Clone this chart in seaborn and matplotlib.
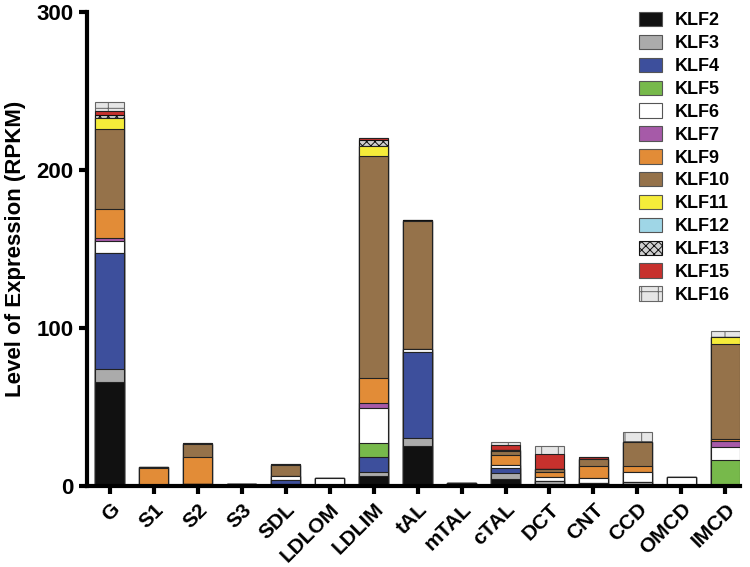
import matplotlib
matplotlib.use('Agg')
import matplotlib.pyplot as plt
import numpy as np
import seaborn as sns
from matplotlib.patches import Patch

# regions along the nephron
regions = ['G', 'S1', 'S2', 'S3', 'SDL', 'LDLOM', 'LDLIM', 'tAL', 'mTAL',
           'cTAL', 'DCT', 'CNT', 'CCD', 'OMCD', 'IMCD']

# expression per KLF gene (RPKM), same order as regions
klf2 = [66, 0, 1.5, 1.0, 1.0, 0, 6, 25.3, 0.5, 4.5, 1.0, 0.7, 1.0, 0, 0.5]
klf3 = [8, 0, 0, 0, 0, 0, 3, 4.9, 1.5, 3.5, 2.0, 1.0, 1.7, 0.5, 0]
klf4 = [73.5, 0, 0, 0, 2.8, 0, 9, 54.8, 0, 3.2, 0, 0, 0, 0, 0]
klf5 = [0, 0, 0, 0, 0, 0, 9, 0, 0, 0, 0, 0, 0, 0, 16]
klf6 = [7.8, 0, 0, 0, 2.5, 5.0, 22.4, 1.5, 0, 2.0, 2.5, 3.2, 6.3, 5.0, 8.4]
klf7 = [1.5, 0, 0, 0, 0, 0, 2.9, 0, 0, 0, 0, 0, 0, 0, 3.4]
klf9 = [18.2, 11.5, 17, 0, 0, 0, 16.1, 0, 0, 6.5, 3.5, 7.8, 3.7, 0, 1.5]
klf10 = [51, 0.5, 8, 0.5, 7, 0.3, 140.7, 81, 0, 2.3, 1.5, 4.2, 14.9, 0, 60.3]
klf11 = [7, 0, 0, 0, 0, 0, 6.3, 0, 0, 0.5, 0.3, 0, 0, 0, 4]
klf12 = [0, 0, 0, 0, 0, 0, 0, 0, 0, 0, 0, 0, 0, 0, 0]
klf13 = [2, 0, 0, 0, 0, 0, 3.6, 1.0, 0, 0, 0, 0, 0.5, 0, 0]
klf15 = [2, 0, 0.5, 0, 0.3, 0, 1.3, 0, 0, 3.2, 9.2, 1.5, 0, 0, 0.3]
klf16 = [6, 0, 0, 0, 0, 0, 0, 0, 0, 1.8, 5.5, 0, 6.0, 0, 3.5]

genes = ['KLF2', 'KLF3', 'KLF4', 'KLF5', 'KLF6', 'KLF7', 'KLF9', 'KLF10',
         'KLF11', 'KLF12', 'KLF13', 'KLF15', 'KLF16']
values = [klf2, klf3, klf4, klf5, klf6, klf7, klf9, klf10,
          klf11, klf12, klf13, klf15, klf16]

# fill colour, hatch and edge per gene
styles = {
    'KLF2': ('#111111', None, '#222222'),
    'KLF3': ('#ababab', None, '#222222'),
    'KLF4': ('#3d4f9c', None, '#222222'),
    'KLF5': ('#77b94b', None, '#222222'),
    'KLF6': ('#ffffff', None, '#222222'),
    'KLF7': ('#a65aa8', None, '#222222'),
    'KLF9': ('#e28c37', None, '#222222'),
    'KLF10': ('#95724a', None, '#222222'),
    'KLF11': ('#f5ec3a', None, '#222222'),
    'KLF12': ('#9fd6e6', None, '#222222'),
    'KLF13': ('#d0d0d0', 'xxxx', '#111111'),
    'KLF15': ('#c7312d', None, '#222222'),
    'KLF16': ('#e6e6e6', '+', '#666666'),
}

plt.rcParams['font.family'] = ['Liberation Sans', 'DejaVu Sans']
plt.rcParams['font.weight'] = 'bold'
plt.rcParams['hatch.linewidth'] = 0.7

fig = plt.figure(figsize=(7.5, 5.67), dpi=100)
ax = fig.add_axes([0.116, 0.143, 0.871, 0.836])

# stacked bars: draw cumulative totals from the top layer down
cum = np.cumsum(np.array(values), axis=0)
for i in range(len(genes) - 1, -1, -1):
    face, hatch, edge = styles[genes[i]]
    sns.barplot(x=regions, y=cum[i], order=regions, color=face, saturation=1,
                width=0.66, edgecolor=edge, linewidth=0.8, hatch=hatch, ax=ax)

ax.set_ylim(0, 300)
ax.set_xlim(-0.52, 14.34)
ax.set_yticks([0, 100, 200, 300])
ax.set_ylabel('Level of Expression (RPKM)', fontsize=16, fontweight='bold',
              labelpad=8)
ax.set_xlabel('')
ax.set_xticks(range(len(regions)))
ax.set_xticklabels(regions, rotation=45, ha='right', rotation_mode='anchor',
                   fontsize=15, fontweight='bold')
for t in ax.get_yticklabels():
    t.set_fontsize(16)
    t.set_fontweight('bold')

for s in ['top', 'right']:
    ax.spines[s].set_visible(False)
for s in ['left', 'bottom']:
    ax.spines[s].set_linewidth(3)
    ax.spines[s].set_color('black')
ax.tick_params(axis='both', width=3, length=6, direction='out')
ax.tick_params(axis='x', pad=4)

handles = []
for g in genes:
    face, hatch, edge = styles[g]
    handles.append(Patch(facecolor=face, edgecolor=edge if hatch else '#555555',
                         hatch=hatch, linewidth=0.8, label=g))
ax.legend(handles=handles, loc='upper left', bbox_to_anchor=(0.845, 1.0),
          frameon=False, borderpad=0, borderaxespad=0,
          handlelength=1.3, handleheight=0.85, handletextpad=0.7,
          labelspacing=0.3, prop={'weight': 'bold', 'size': 13})

plt.savefig('out.png', dpi=100)
